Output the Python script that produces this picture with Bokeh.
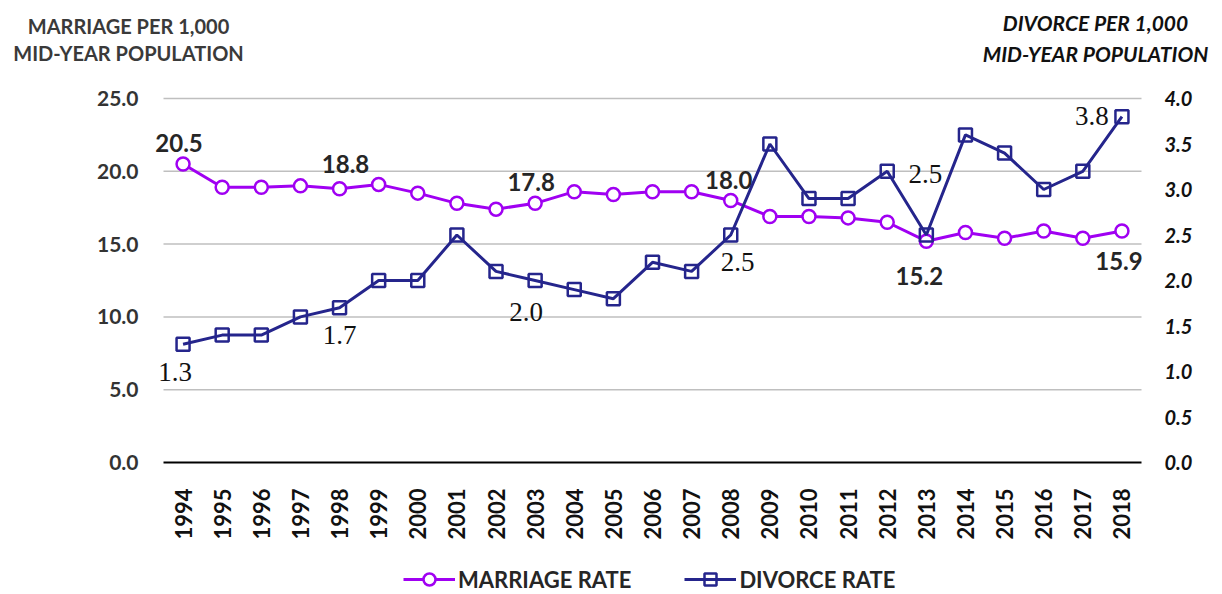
import math
from bokeh.plotting import figure
from bokeh.models import Range1d, ColumnDataSource, Label, Legend, LegendItem
from bokeh.embed import file_html
from bokeh.resources import INLINE
from bokeh.core.properties import value

# ---------------- data ----------------
years = list(range(1994, 2019))
marriage = [20.5, 18.9, 18.9, 19.0, 18.8, 19.1, 18.5, 17.8, 17.4, 17.8, 18.6, 18.4, 18.6,
            18.6, 18.0, 16.9, 16.9, 16.8, 16.5, 15.2, 15.8, 15.4, 15.9, 15.4, 15.9]
divorce = [1.3, 1.4, 1.4, 1.6, 1.7, 2.0, 2.0, 2.5, 2.1, 2.0, 1.9, 1.8, 2.2, 2.1, 2.5,
           3.5, 2.9, 2.9, 3.2, 2.5, 3.6, 3.4, 3.0, 3.2, 3.8]
labeled_years = [1994, 1998, 2003, 2008, 2013, 2018]
left_ticks = [0, 5, 10, 15, 20, 25]
right_ticks = [0, 0.5, 1.0, 1.5, 2.0, 2.5, 3.0, 3.5, 4.0]
LEFT_MAX, RIGHT_MAX = 25, 4

# ---------------- layout / style ----------------
PURPLE = "#A000F2"
NAVY = "#25258C"
m_off = {1994: (-4, -21), 1998: (6, -25), 2003: (-4, -21), 2008: (-2, -20), 2013: (-7, 35), 2018: (-3, 30)}
d_off = {1994: (-8, 28), 1998: (0, 27), 2003: (-9, 31), 2008: (7, 27), 2013: (-1, -61), 2018: (-30, -1)}

W, H = 1222, 594
FL, FR, FT = 163, 1141, 98        # plot area left / right / top (px)
ZERO = 462                         # pixel row of the zero line
px_year = (FR - FL) / len(years)
px_l = (ZERO - FT) / LEFT_MAX
px_r = (ZERO - FT) / RIGHT_MAX
x0, x1 = years[0] - 0.5, years[-1] + 0.5

p = figure(width=W, height=H,
           x_range=Range1d(x0 - FL / px_year, x1 + (W - FR) / px_year),
           y_range=Range1d(-(H - ZERO) / px_l, LEFT_MAX + FT / px_l),
           x_axis_location=None, y_axis_location=None,
           output_backend="svg", toolbar_location=None,
           min_border_left=0, min_border_right=0, min_border_top=0, min_border_bottom=0,
           background_fill_color="white", border_fill_color="white", outline_line_color=None)
p.extra_y_ranges = {"div": Range1d(-(H - ZERO) / px_r, RIGHT_MAX + FT / px_r)}
p.xgrid.visible = False
p.ygrid.visible = False

# gridlines and zero line
gsrc = ColumnDataSource(dict(y=left_ticks[1:]))
p.segment(x0=x0, x1=x1, y0="y", y1="y", source=gsrc, line_color="#BFBFBF", line_width=1.5)
p.segment(x0=x0, x1=x1, y0=0, y1=0, line_color="black", line_width=2)

# left value labels
lsrc = ColumnDataSource(dict(y=left_ticks, t=["%.1f" % v for v in left_ticks]))
p.text(x=x0, y="y", text="t", source=lsrc, x_offset=-25, text_align="right",
       text_baseline="middle", text_font=value("Lato"), text_font_style="bold",
       text_font_size="21px", text_color="#333333")
# right value labels
rsrc = ColumnDataSource(dict(y=right_ticks, t=["%.1f" % v for v in right_ticks]))
p.text(x=x1, y="y", text="t", source=rsrc, y_range_name="div", x_offset=23,
       text_align="left", text_baseline="middle", text_font=value("Lato"),
       text_font_style="bold italic", text_font_size="20px", text_color="#111111")
# year labels
ysrc = ColumnDataSource(dict(x=years, t=[str(y) for y in years]))
p.text("x", 0, text="t", source=ysrc, angle=math.pi / 2, y_offset=26,
       text_align="right", text_baseline="middle", text_font=value("Lato"),
       text_font_style="bold", text_font_size="22px", text_color="#111111")

# series
src = ColumnDataSource(dict(x=years, m=marriage, d=divorce))
ml = p.line("x", "m", source=src, line_color=PURPLE, line_width=3)
ms = p.scatter("x", "m", source=src, marker="circle", size=13, fill_color="white",
               line_color=PURPLE, line_width=2.5)
dl = p.line("x", "d", source=src, y_range_name="div", line_color=NAVY, line_width=3)
ds = p.scatter("x", "d", source=src, y_range_name="div", marker="square", size=13,
               fill_alpha=0, line_color=NAVY, line_width=2.5)

# data labels
mi = [years.index(y) for y in labeled_years]
mlab = ColumnDataSource(dict(
    x=labeled_years, y=[marriage[i] for i in mi], t=["%.1f" % marriage[i] for i in mi],
    dx=[m_off[y][0] for y in labeled_years], dy=[m_off[y][1] for y in labeled_years]))
p.text("x", "y", text="t", source=mlab, x_offset="dx", y_offset="dy",
       text_align="center", text_baseline="middle", text_font=value("Lato"),
       text_font_style="bold", text_font_size="24px", text_color="#262626")
dlab = ColumnDataSource(dict(
    x=labeled_years, y=[divorce[i] for i in mi], t=["%.1f" % divorce[i] for i in mi],
    dx=[d_off[y][0] for y in labeled_years], dy=[d_off[y][1] for y in labeled_years]))
p.text("x", "y", text="t", source=dlab, y_range_name="div", x_offset="dx", y_offset="dy",
       text_align="center", text_baseline="middle", text_font=value("Liberation Serif"),
       text_font_size="27px", text_color="#111111")

# axis titles (screen px from bottom-left)
for txt, py in [("MARRIAGE PER 1,000", 25), ("MID-YEAR POPULATION", 52)]:
    p.add_layout(Label(x=128, y=H - py, x_units="screen", y_units="screen", text=txt,
                       text_align="center", text_baseline="middle", text_font="Lato",
                       text_font_style="bold", text_font_size="20px", text_color="#3a3a3a"))
for txt, py in [("DIVORCE PER 1,000", 22), ("MID-YEAR POPULATION", 53)]:
    p.add_layout(Label(x=1095, y=H - py, x_units="screen", y_units="screen", text=txt,
                       text_align="center", text_baseline="middle", text_font="Lato",
                       text_font_style="bold italic", text_font_size="21px", text_color="#111111"))

legend = Legend(items=[LegendItem(label="MARRIAGE RATE", renderers=[ml, ms]),
                       LegendItem(label="DIVORCE RATE", renderers=[dl, ds])],
                location=(403, 0), orientation="horizontal", padding=0, margin=0,
                spacing=53, glyph_width=52, glyph_height=30, label_standoff=3,
                label_height=22, label_text_font="Lato", label_text_font_style="bold",
                label_text_font_size="22px", label_text_color="#262626",
                border_line_color=None, background_fill_alpha=0)
p.add_layout(legend)

open("out.html", "w").write(file_html(p, INLINE))
